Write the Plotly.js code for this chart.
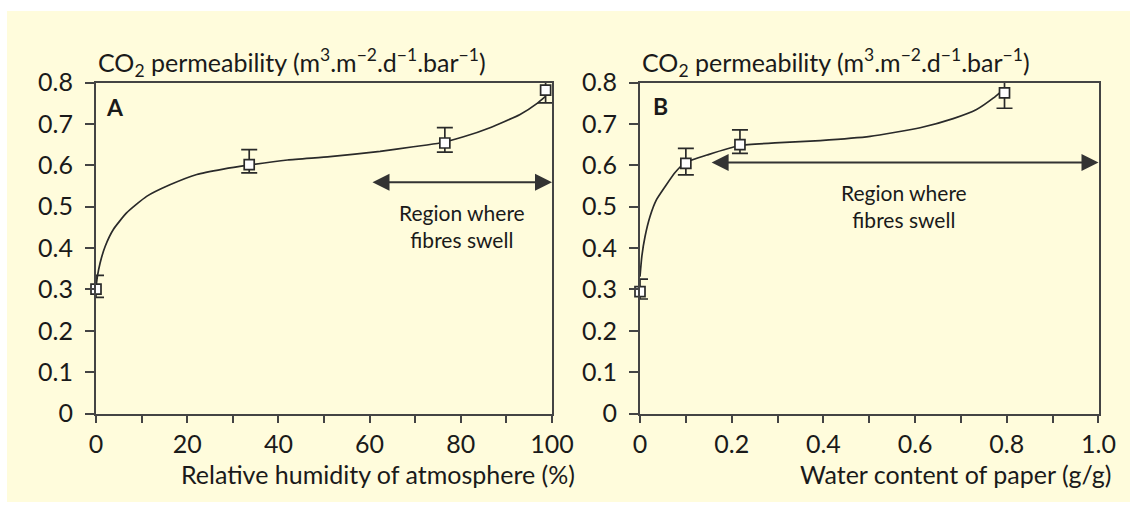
<!DOCTYPE html>
<html>
<head>
<meta charset="utf-8">
<script src="https://cdn.plot.ly/plotly-3.0.1.min.js"></script>
<style>
html,body{margin:0;padding:0;background:#ffffff;}
#chart{width:1138px;height:509px;}
</style>
</head>
<body>
<div id="chart"></div>
<script>
// ---- Panel A: permeability vs relative humidity ----
const rhA = [0, 33.6, 76.5, 98.6];
const permA = [0.301, 0.602, 0.654, 0.782];
const errUpA = [0.033, 0.036, 0.037, 0.040];
const errDownA = [0.020, 0.020, 0.022, 0.031];
// fitted curve
const curveXA = [0, 0.3, 0.9, 2.0, 3.8, 6.7, 11.1, 16.2, 22.1, 27.9, 33.0, 42.0, 51.3, 62.3, 69.6, 75.4, 80.6, 86.4, 93.0, 96.9, 98.5];
const curveYA = [0.305, 0.331, 0.364, 0.404, 0.445, 0.485, 0.525, 0.553, 0.578, 0.591, 0.600, 0.613, 0.621, 0.634, 0.645, 0.654, 0.669, 0.691, 0.723, 0.751, 0.766];

// ---- Panel B: permeability vs water content ----
const wcB = [0, 0.100, 0.218, 0.795];
const permB = [0.295, 0.605, 0.650, 0.775];
const errUpB = [0.030, 0.036, 0.036, 0.030];
const errDownB = [0.018, 0.028, 0.021, 0.037];
const curveXB = [0, 0.004, 0.011, 0.022, 0.036, 0.055, 0.076, 0.098, 0.149, 0.218, 0.305, 0.393, 0.502, 0.611, 0.683, 0.734, 0.771, 0.785];
const curveYB = [0.331, 0.380, 0.428, 0.477, 0.517, 0.549, 0.582, 0.606, 0.626, 0.648, 0.655, 0.660, 0.670, 0.691, 0.713, 0.735, 0.763, 0.776];

// ---- axis ticks / labels ----
const yTickVals = [0, 0.1, 0.2, 0.3, 0.4, 0.5, 0.6, 0.7, 0.8];
const yTickText = ['0', '0.1', '0.2', '0.3', '0.4', '0.5', '0.6', '0.7', '0.8'];
const xTickValsA = [0, 20, 40, 60, 80, 100];
const xTickTextA = ['0', '20', '40', '60', '80', '100'];
const xTickValsB = [0, 0.2, 0.4, 0.6, 0.8, 1.0];
const xTickTextB = ['0', '0.2', '0.4', '0.6', '0.8', '1.0'];

const yTitle = 'CO<sub>2</sub> permeability (m<sup>3</sup>.m<sup>\u22122</sup>.d<sup>\u22121</sup>.bar<sup>\u22121</sup>)';
const xTitleA = 'Relative humidity of atmosphere (%)';
const xTitleB = 'Water content of paper (g/g)';
const regionText = 'Region where<br>fibres swell';

const ink = '#2a2a2a';
const axisInk = '#444444';
const txt = '#1a1a1a';
const FONT = 'Lato, "Open Sans", sans-serif';

function curve(x, y, xa, ya) {
  return {x: x, y: y, xaxis: xa, yaxis: ya, type: 'scatter', mode: 'lines',
    line: {color: ink, width: 1.7, shape: 'spline', smoothing: 0.5}, hoverinfo: 'skip', cliponaxis: false};
}
function pts(x, y, up, down, xa, ya) {
  return {x: x, y: y, xaxis: xa, yaxis: ya, type: 'scatter', mode: 'markers', cliponaxis: false,
    marker: {symbol: 'square', size: 10, color: '#ffffff', line: {color: ink, width: 1.7}},
    error_y: {type: 'data', symmetric: false, array: up, arrayminus: down, color: ink, thickness: 1.7, width: 8}};
}

const data = [
  curve(curveXA, curveYA, 'x', 'y'),
  pts(rhA, permA, errUpA, errDownA, 'x', 'y'),
  curve(curveXB, curveYB, 'x2', 'y2'),
  pts(wcB, permB, errUpB, errDownB, 'x2', 'y2')
];

const yDom = [0.1874, 0.8377];
function yAxis(anchor) {
  return {domain: yDom, anchor: anchor, range: [0, 0.8], tickvals: yTickVals, ticktext: yTickText,
    ticks: 'outside', ticklen: 9, tickwidth: 2, tickcolor: axisInk, showline: true, linecolor: axisInk, linewidth: 2,
    mirror: true, showgrid: false, zeroline: false, tickfont: {family: FONT, size: 25, color: txt},
    ticklabelstandoff: 7, fixedrange: true};
}
function xAxis(dom, anchor, range, vals, text, minorDt) {
  return {domain: dom, anchor: anchor, range: range, tickvals: vals, ticktext: text,
    ticks: 'outside', ticklen: 7, tickwidth: 2, tickcolor: axisInk, showline: true, linecolor: axisInk, linewidth: 2,
    mirror: true, showgrid: false, zeroline: false, tickfont: {family: FONT, size: 25, color: txt},
    minor: {dtick: minorDt, ticks: 'outside', ticklen: 7, tickwidth: 2, tickcolor: axisInk, showgrid: false},
    ticklabelstandoff: 0, fixedrange: true};
}

const arrowCommon = {text: '', showarrow: true, arrowhead: 2, arrowsize: 1.7, arrowwidth: 2,
  arrowcolor: '#333', arrowside: 'end+start', standoff: 0, startstandoff: 0};

const layout = {
  width: 1138, height: 509,
  margin: {l: 0, r: 0, t: 0, b: 0},
  paper_bgcolor: '#ffffff', plot_bgcolor: 'rgba(0,0,0,0)',
  showlegend: false,
  font: {family: FONT, color: txt},
  xaxis: xAxis([0.08436, 0.48506], 'y', [0, 100], xTickValsA, xTickTextA, 10),
  yaxis: yAxis('x'),
  xaxis2: xAxis([0.56239, 0.96529], 'y2', [0, 1], xTickValsB, xTickTextB, 0.1),
  yaxis2: yAxis('x2'),
  shapes: [
    {type: 'rect', xref: 'paper', yref: 'paper', x0: 7/1138, x1: 1130/1138, y0: (509-502)/509, y1: (509-11)/509,
     fillcolor: '#fffcdc', line: {width: 0}, layer: 'below'}
  ],
  annotations: [
    // y titles above plots
    {xref: 'x domain', yref: 'y domain', x: 0, y: 1, xanchor: 'left', yanchor: 'bottom', yshift: 0, showarrow: false,
     text: yTitle, font: {family: FONT, size: 25, color: txt}},
    {xref: 'x2 domain', yref: 'y2 domain', x: 0, y: 1, xanchor: 'left', yanchor: 'bottom', yshift: 0, showarrow: false,
     text: yTitle, font: {family: FONT, size: 25, color: txt}},
    // x titles
    {xref: 'paper', yref: 'paper', x: 577/1138, y: (509-474)/509, xanchor: 'right', yanchor: 'middle', showarrow: false,
     text: xTitleA, font: {family: FONT, size: 25, color: txt}},
    {xref: 'paper', yref: 'paper', x: 1114/1138, y: (509-474)/509, xanchor: 'right', yanchor: 'middle', showarrow: false,
     text: xTitleB, font: {family: FONT, size: 25, color: txt}},
    // panel letters
    {xref: 'x', yref: 'y', x: 4.2, y: 0.740, showarrow: false, text: '<b>A</b>', font: {family: FONT, size: 23, color: txt}},
    {xref: 'x2', yref: 'y2', x: 0.044, y: 0.743, showarrow: false, text: '<b>B</b>', font: {family: FONT, size: 23, color: txt}},
    // region arrows
    Object.assign({xref: 'x', yref: 'y', axref: 'x', ayref: 'y', x: 100, y: 0.559, ax: 60.3, ay: 0.559}, arrowCommon),
    Object.assign({xref: 'x2', yref: 'y2', axref: 'x2', ayref: 'y2', x: 1.0, y: 0.607, ax: 0.153, ay: 0.607}, arrowCommon),
    // region texts
    {xref: 'x', yref: 'y', x: 80.2, y: 0.522, yanchor: 'top', showarrow: false, text: regionText,
     font: {family: FONT, size: 21, color: txt}, align: 'center'},
    {xref: 'x2', yref: 'y2', x: 0.575, y: 0.570, yanchor: 'top', showarrow: false, text: regionText,
     font: {family: FONT, size: 21, color: txt}, align: 'center'}
  ]
};

Plotly.newPlot('chart', data, layout, {displayModeBar: false, staticPlot: true});
</script>
</body>
</html>
